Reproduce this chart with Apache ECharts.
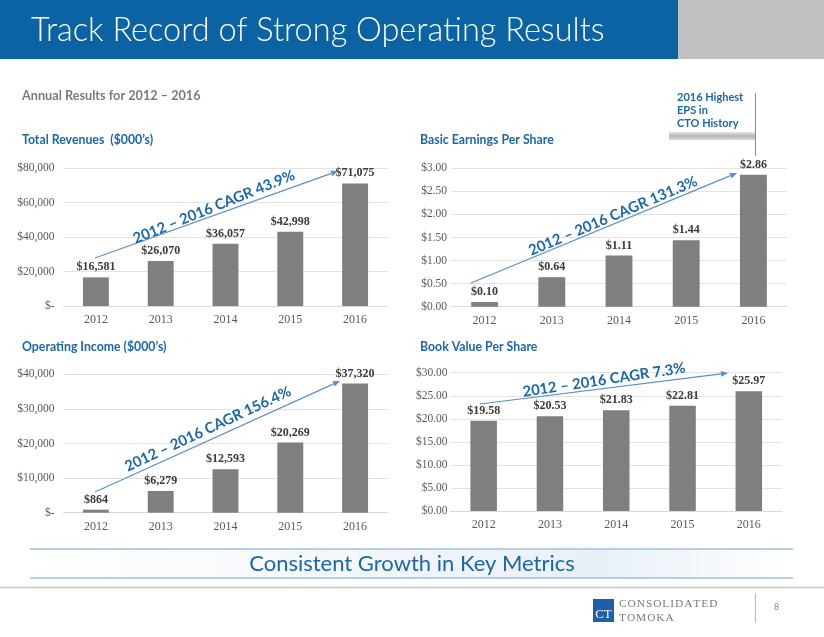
<!DOCTYPE html>
<html>
<head>
<meta charset="utf-8">
<script src="https://cdn.jsdelivr.net/npm/echarts@6/dist/echarts.min.js"></script>
<style>
html,body{margin:0;padding:0;background:#fff;}
#chart{width:824px;height:637px;}
</style>
</head>
<body>
<div id="chart"></div>
<script>
// ---- Data ----
const years = ['2012', '2013', '2014', '2015', '2016'];
const revenues = [16581, 26070, 36057, 42998, 71075];
const eps = [0.10, 0.64, 1.11, 1.44, 2.86];
const opIncome = [864, 6279, 12593, 20269, 37320];
const bookValue = [19.58, 20.53, 21.83, 22.81, 25.97];

const titleText = 'Track Record of Strong Operating Results';
const subtitleText = 'Annual Results for 2012 – 2016';
const chartTitles = ['Total Revenues  ($000\u2019s)', 'Basic Earnings Per Share', 'Operating Income ($000\u2019s)', 'Book Value Per Share'];
const cagrTexts = ['2012 – 2016 CAGR 43.9%', '2012 – 2016 CAGR 131.3%', '2012 – 2016 CAGR 156.4%', '2012 – 2016 CAGR 7.3%'];
const calloutLines = ['2016 Highest', 'EPS in', 'CTO History'];
const footerText = 'Consistent Growth in Key Metrics';
const pageNumber = '8';

// ---- Styles ----
const BLUE = '#1a67ab';
const SERIF = '"Liberation Serif", "Times New Roman", serif';
const SANS = 'Lato, "Open Sans", sans-serif';
const BAR = '#7f7f7f';

function money0(v) {
  if (v === 0) return '$-';
  return '$' + v.toLocaleString('en-US');
}
function money2(v) { return '$' + v.toFixed(2); }

const chart = echarts.init(document.getElementById('chart'));

const grids = [
  {left: 63.5, right: 436.5, top: 168, bottom: 331},
  {left: 451, right: 37, top: 168.3, bottom: 330.3},
  {left: 63.5, right: 436.5, top: 374.3, bottom: 124.3},
  {left: 450.5, right: 42, top: 372.7, bottom: 126}
];
const yCfg = [
  {max: 80000, interval: 20000, fmt: money0},
  {max: 3, interval: 0.5, fmt: money2},
  {max: 40000, interval: 10000, fmt: money0},
  {max: 30, interval: 5, fmt: money2}
];
const seriesData = [revenues, eps, opIncome, bookValue];
const labelMargins = [9, 4, 9, 3];

const xAxes = grids.map((g, i) => ({
  type: 'category', gridIndex: i, data: years,
  axisLine: {show: true, lineStyle: {color: '#d9d9d9', width: 1}},
  axisTick: {show: false},
  axisLabel: {color: '#595959', fontFamily: SERIF, fontSize: 12, margin: 8}
}));
const yAxes = grids.map((g, i) => ({
  type: 'value', gridIndex: i, min: 0, max: yCfg[i].max, interval: yCfg[i].interval,
  axisLine: {show: false}, axisTick: {show: false},
  splitLine: {lineStyle: {color: '#e3e3e3', width: 1}},
  axisLabel: {color: '#595959', fontFamily: SERIF, fontSize: 11.5, margin: labelMargins[i], formatter: yCfg[i].fmt}
}));
const series = seriesData.map((d, i) => ({
  type: 'bar', xAxisIndex: i, yAxisIndex: i, data: d, barWidth: '40%',
  itemStyle: {color: BAR},
  label: {show: true, position: 'top', distance: 4, color: '#3a3a3a', fontFamily: SERIF, fontWeight: 'bold', fontSize: 12,
    formatter: p => yCfg[i].fmt === money0 ? money0(p.value) : money2(p.value)}
}));

// Arrow helper (annotation)
function arrow(x1, y1, x2, y2) {
  const ang = Math.atan2(y2 - y1, x2 - x1);
  const L = 7, W = 3;
  const bx = x2 - L * Math.cos(ang), by = y2 - L * Math.sin(ang);
  const px = -Math.sin(ang) * W, py = Math.cos(ang) * W;
  return [
    {type: 'line', shape: {x1, y1, x2: bx, y2: by}, style: {stroke: '#5b8fd0', lineWidth: 1.2}, z: 10},
    {type: 'polygon', shape: {points: [[x2, y2], [bx + px, by + py], [bx - px, by - py]]}, style: {fill: '#5b8fd0'}, z: 10}
  ];
}
function rotText(text, cx, cy, deg, size) {
  return {type: 'text', x: cx, y: cy, rotation: deg * Math.PI / 180, z: 11,
    style: {text, fill: BLUE, font: 'bold ' + size + 'px ' + SANS, textAlign: 'center', textVerticalAlign: 'middle'}};
}

const graphics = [
  // header bar
  {type: 'rect', shape: {x: 0, y: 0, width: 678, height: 59}, style: {fill: '#0b63a4'}},
  {type: 'rect', shape: {x: 678, y: 0, width: 146, height: 59}, style: {fill: '#c0c0c0'}},
  {type: 'text', x: 31, y: 31, style: {text: titleText, fill: '#ffffff', font: '300 32.5px ' + SANS, textVerticalAlign: 'middle'}},
  // subtitle
  {type: 'text', x: 22, y: 96, style: {text: subtitleText, fill: '#7a7a7a', font: 'bold 12.7px ' + SANS, textVerticalAlign: 'middle'}},
  // chart titles
  {type: 'text', x: 22, y: 140, style: {text: chartTitles[0], fill: BLUE, font: 'bold 12.3px ' + SANS, textVerticalAlign: 'middle'}},
  {type: 'text', x: 420, y: 140, style: {text: chartTitles[1], fill: BLUE, font: 'bold 12.3px ' + SANS, textVerticalAlign: 'middle'}},
  {type: 'text', x: 22, y: 347, style: {text: chartTitles[2], fill: BLUE, font: 'bold 12.3px ' + SANS, textVerticalAlign: 'middle'}},
  {type: 'text', x: 420, y: 347, style: {text: chartTitles[3], fill: BLUE, font: 'bold 12.3px ' + SANS, textVerticalAlign: 'middle'}},
  // callout
  {type: 'text', x: 677, y: 97, style: {text: calloutLines[0], fill: BLUE, font: 'bold 11px ' + SANS, textVerticalAlign: 'middle'}},
  {type: 'text', x: 677, y: 110, style: {text: calloutLines[1], fill: BLUE, font: 'bold 11px ' + SANS, textVerticalAlign: 'middle'}},
  {type: 'text', x: 677, y: 123, style: {text: calloutLines[2], fill: BLUE, font: 'bold 11px ' + SANS, textVerticalAlign: 'middle'}},
  {type: 'rect', shape: {x: 669, y: 132, width: 86, height: 8},
    style: {fill: new echarts.graphic.LinearGradient(0, 0, 0, 1, [{offset: 0, color: '#e6e6e6'}, {offset: 0.5, color: '#b5b5b5'}, {offset: 1, color: '#dcdcdc'}])}},
  {type: 'line', shape: {x1: 755.5, y1: 93, x2: 755.5, y2: 156}, style: {stroke: '#8a8a8a', lineWidth: 1}},
  // CAGR annotations
  ...arrow(95, 258, 338, 171),
  rotText(cagrTexts[0], 214, 207, 22, 14.8),
  ...arrow(471, 283, 737, 173),
  rotText(cagrTexts[1], 613, 216, 23, 14.8),
  ...arrow(480, 404, 728, 373),
  rotText(cagrTexts[3], 604, 380, 8.5, 14.8),
  ...arrow(95, 492, 340, 381),
  rotText(cagrTexts[2], 208, 429, 25, 14.8),
  // footer band
  {type: 'rect', shape: {x: 30, y: 549, width: 763, height: 29},
    style: {fill: new echarts.graphic.LinearGradient(0, 0, 1, 0, [{offset: 0, color: '#ffffff'}, {offset: 0.45, color: '#f3f6fa'}, {offset: 0.75, color: '#e9f0f8'}, {offset: 1, color: '#ffffff'}])}},
  {type: 'line', shape: {x1: 30, y1: 549, x2: 793, y2: 549}, style: {stroke: '#9cc0e0', lineWidth: 1.5}},
  {type: 'line', shape: {x1: 30, y1: 578, x2: 793, y2: 578}, style: {stroke: '#9cc0e0', lineWidth: 1.5}},
  {type: 'text', x: 412, y: 564, style: {text: footerText, fill: BLUE, font: '22px ' + SANS, textAlign: 'center', textVerticalAlign: 'middle'}},
  {type: 'line', shape: {x1: 0, y1: 587.5, x2: 824, y2: 587.5}, style: {stroke: '#c8c8c8', lineWidth: 1.5}},
  // logo
  {type: 'rect', shape: {x: 593, y: 599, width: 21, height: 23}, style: {fill: '#1d60a8'}},
  {type: 'text', x: 603.5, y: 615, style: {text: 'CT', fill: '#ffffff', font: '13px ' + SERIF, textAlign: 'center', textVerticalAlign: 'middle'}},
  {type: 'text', x: 619, y: 604, style: {text: 'C O N S O L I D A T E D'.replace(/ /g, '\u200A'), fill: '#7a7a7a', font: '11.4px ' + SERIF, textVerticalAlign: 'middle'}},
  {type: 'text', x: 619, y: 618, style: {text: 'T\u200AO\u200AM\u200AO\u200AK\u200AA', fill: '#7a7a7a', font: '11.4px ' + SERIF, textVerticalAlign: 'middle'}},
  {type: 'line', shape: {x1: 755.5, y1: 593, x2: 755.5, y2: 623}, style: {stroke: '#bbbbbb', lineWidth: 1}},
  {type: 'text', x: 774, y: 607, style: {text: pageNumber, fill: '#8a8a8a', font: '9px ' + SANS, textVerticalAlign: 'middle'}}
];

chart.setOption({
  animation: false,
  backgroundColor: '#ffffff',
  grid: grids,
  xAxis: xAxes,
  yAxis: yAxes,
  series: series,
  graphic: graphics
});
</script>
</body>
</html>
